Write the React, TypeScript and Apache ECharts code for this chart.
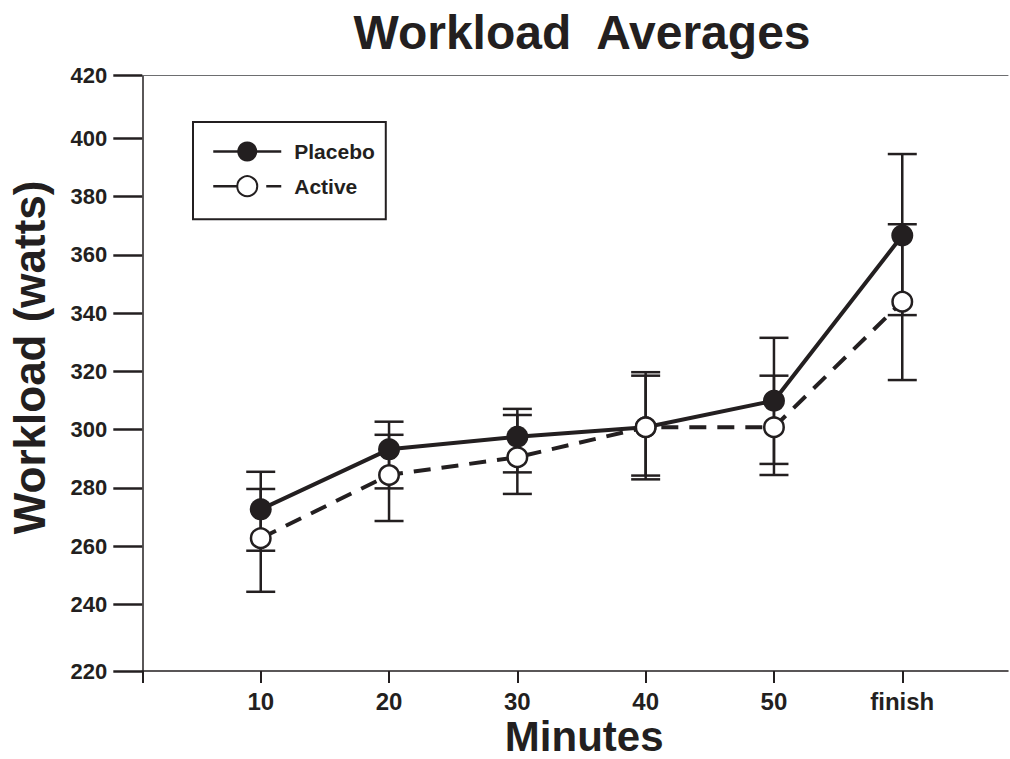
import React, { useEffect, useRef } from 'react';
import * as echarts from 'echarts';

const minutes = [10, 20, 30, 40, 50, 60];
const minuteLabels = ['10', '20', '30', '40', '50', 'finish'];

const placebo = [272.6, 293.2, 297.5, 300.8, 309.9, 366.6];
const placeboHigh = [285.5, 302.7, 307.1, 319.7, 331.5, 394.6];
const placeboLow = [258.4, 279.8, 285.3, 284.2, 288.2, 339.3];

const active = [262.7, 284.4, 290.5, 300.8, 300.8, 343.9];
const activeHigh = [279.6, 298.2, 305.0, 318.5, 318.5, 370.5];
const activeLow = [244.3, 268.6, 277.9, 282.9, 284.4, 317.0];

const yTicksInner = [240, 260, 280, 300, 320, 340, 360, 380, 400];
const yTicksEnds = [220, 420];

const INK = '#231f20';
const FONT = "'Liberation Sans Narrow', 'Arial Narrow', 'Liberation Sans', sans-serif";

export default function App() {
  const ref = useRef<HTMLDivElement>(null);
  useEffect(() => {
    const chart = echarts.init(ref.current!, null, { renderer: 'svg' });

    const errorSeries = (name: string, low: number[], high: number[], z: number) => ({
      type: 'custom',
      name,
      xAxisIndex: 0,
      yAxisIndex: 0,
      z,
      silent: true,
      data: minutes.map((m, i) => [m, low[i], high[i]]),
      renderItem: (_params: any, api: any) => {
        const x = api.value(0);
        const pLo = api.coord([x, api.value(1)]);
        const pHi = api.coord([x, api.value(2)]);
        const hw = 14.5;
        const st = { stroke: INK, lineWidth: 2.5 };
        return {
          type: 'group',
          children: [
            { type: 'line', shape: { x1: pLo[0], y1: pLo[1], x2: pHi[0], y2: pHi[1] }, style: st },
            { type: 'line', shape: { x1: pLo[0] - hw, y1: pLo[1], x2: pLo[0] + hw, y2: pLo[1] }, style: st },
            { type: 'line', shape: { x1: pHi[0] - hw, y1: pHi[1], x2: pHi[0] + hw, y2: pHi[1] }, style: st },
          ],
        };
      },
    });

    const labelStyle = { fontFamily: FONT, fontWeight: 'bold' as const, color: INK };

    chart.setOption({
      animation: false,
      backgroundColor: '#ffffff',
      title: {
        text: 'Workload  Averages',
        left: 577,
        top: 3,
        textAlign: 'center',
        textStyle: { ...labelStyle, fontSize: 48 },
      },
      legend: {
        orient: 'vertical',
        left: 193,
        top: 122,
        padding: [19, 11, 22, 19],
        borderColor: INK,
        borderWidth: 2,
        itemWidth: 68,
        itemHeight: 25,
        itemGap: 13.2,
        lineStyle: { width: 2.5 },
        textStyle: { ...labelStyle, fontSize: 21, padding: [0, 0, 0, 8] },
        data: [
          { name: 'Placebo' },
          { name: 'Active', lineStyle: { type: [24, 29], width: 2.5 } },
        ],
      },
      grid: {
        left: 142.3,
        right: 2,
        top: 75.7,
        bottom: 88,
        containLabel: false,
        outerBoundsMode: 'none',
      },
      xAxis: [
        {
          type: 'value',
          min: 0.77,
          max: 68.24,
          position: 'bottom',
          axisLine: { show: true, lineStyle: { color: INK, width: 1.5 } },
          axisTick: {
            show: true,
            customValues: [0.77, ...minutes],
            length: 12,
            lineStyle: { color: INK, width: 2 },
          },
          axisLabel: {
            customValues: minutes,
            formatter: (v: number) => minuteLabels[minutes.indexOf(v)] ?? '',
            ...labelStyle,
            fontSize: 24,
            margin: 18,
          },
          splitLine: { show: false },
          name: 'Minutes',
          nameLocation: 'middle',
          nameGap: 44,
          nameMoveOverlap: false,
          nameTextStyle: { ...labelStyle, fontSize: 42, lineHeight: 42, padding: [0, 0, 0, 18] },
        },
        {
          type: 'value',
          min: 0.77,
          max: 68.24,
          position: 'top',
          axisLine: { show: true, lineStyle: { color: '#6d6e70', width: 1 } },
          axisTick: { show: false },
          axisLabel: { show: false },
          splitLine: { show: false },
        },
      ],
      yAxis: [
        {
          type: 'value',
          min: 217.1,
          max: 421.5,
          position: 'left',
          axisLine: { show: true, lineStyle: { color: INK, width: 1.5 } },
          axisTick: {
            show: true,
            customValues: yTicksInner,
            length: 29,
            lineStyle: { color: INK, width: 2.5 },
          },
          axisLabel: { customValues: yTicksInner, ...labelStyle, fontSize: 22, margin: 35 },
          splitLine: { show: false },
          name: 'Workload (watts)',
          nameLocation: 'middle',
          nameGap: 91,
          nameMoveOverlap: false,
          nameTextStyle: { ...labelStyle, fontSize: 44, padding: [0, 0, 0, 32] },
        },
        {
          type: 'value',
          min: 220,
          max: 420,
          position: 'left',
          offset: 0,
          axisLine: { show: false },
          axisTick: {
            show: true,
            customValues: yTicksEnds,
            length: 29,
            lineStyle: { color: INK, width: 2.5 },
          },
          axisLabel: { customValues: yTicksEnds, ...labelStyle, fontSize: 22, margin: 35 },
          splitLine: { show: false },
        },
      ],
      series: [
        errorSeries('Placebo SD', placeboLow, placeboHigh, 1),
        errorSeries('Active SD', activeLow, activeHigh, 1),
        {
          type: 'line',
          name: 'Placebo',
          xAxisIndex: 0,
          yAxisIndex: 0,
          z: 3,
          data: minutes.map((m, i) => [m, placebo[i]]),
          symbol: 'circle',
          symbolSize: 22,
          itemStyle: { color: INK },
          lineStyle: { color: INK, width: 4 },
        },
        {
          type: 'line',
          name: 'Active',
          xAxisIndex: 0,
          yAxisIndex: 0,
          z: 4,
          data: minutes.map((m, i) => [m, active[i]]),
          symbol: 'circle',
          symbolSize: 19.5,
          itemStyle: { color: '#ffffff', borderColor: INK, borderWidth: 2.5 },
          lineStyle: { color: INK, width: 4, type: [17, 11] },
        },
      ],
    });
    return () => chart.dispose();
  }, []);
  return (
    <div
      ref={ref}
      style={{ position: 'fixed', left: 0, top: 0, width: 1010, height: 759, background: '#fff' }}
    />
  );
}
